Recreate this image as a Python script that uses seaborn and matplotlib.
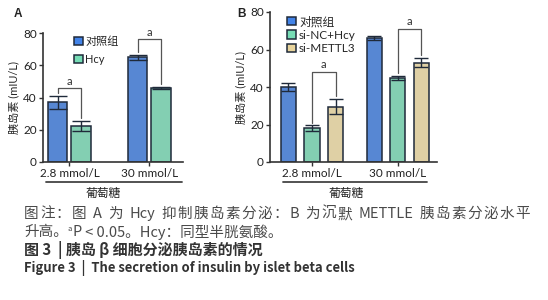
import re
import numpy as np
import pandas as pd
import matplotlib
matplotlib.use("Agg")
import matplotlib.pyplot as plt
from matplotlib.lines import Line2D
import seaborn as sns

# dados
glucose = ["2.8 mmol/L", "30 mmol/L"]
groups_a = ["对照组", "Hcy"]
mean_a = {"对照组": [37, 65], "Hcy": [22.5, 46]}
sd_a = {"对照组": [4, 1.5], "Hcy": [3, 0.7]}

groups_b = ["对照组", "si-NC+Hcy", "si-METTL3"]
mean_b = {"对照组": [40, 66], "si-NC+Hcy": [18, 45], "si-METTL3": [29.5, 53]}
sd_b = {"对照组": [2, 1], "si-NC+Hcy": [1.5, 1], "si-METTL3": [4, 2.5]}

y_ticks = [0, 20, 40, 60, 80]
ylabel = "胰岛素 (mIU/L)"
xlabel = "葡萄糖"

colors = {"对照组": "#4283e8", "Hcy": "#76dcb5", "si-NC+Hcy": "#76dcb5", "si-METTL3": "#e8d49c"}
edge = "#1f2a3a"

sns.set_style("white")
plt.rcParams['font.family'] = ['Lato', 'Noto Sans CJK SC', 'DejaVu Sans']

W, H = 548, 300
fig = plt.figure(figsize=(W / 100, H / 100), dpi=100)
renderer = fig.canvas.get_renderer()


def px_axes(left, top, right, bottom):
    return fig.add_axes([left / W, 1 - bottom / H, (right - left) / W, (bottom - top) / H])


def build_df(groups, means, sds):
    rows = []
    for g in groups:
        for i, c in enumerate(glucose):
            rows.append({"glucose": c, "group": g, "mean": means[g][i], "sd": sds[g][i]})
    return pd.DataFrame(rows)


def draw_panel(ax, groups, means, sds, width, gap, xlim, leg_xy, leg_fs, leg_space):
    df = build_df(groups, means, sds)
    sns.barplot(data=df, x="glucose", y="mean", hue="group", hue_order=groups,
                order=glucose, palette=colors, width=width, gap=gap,
                edgecolor=edge, linewidth=1.1, errorbar=None, ax=ax)
    # barras de erro a partir das posições dos patches
    centers = {}
    for cont, g in zip(ax.containers, groups):
        for i, bar in enumerate(cont):
            cx = bar.get_x() + bar.get_width() / 2
            centers[(g, i)] = (cx, bar.get_height() + sds[g][i])
            ax.errorbar(cx, bar.get_height(), yerr=sds[g][i], color=edge,
                        capsize=bar.get_width() * 100 * 0.28, elinewidth=1.0,
                        capthick=1.0, zorder=5)
    ax.set_ylim(0, 80)
    ax.set_xlim(*xlim)
    ax.set_yticks(y_ticks)
    ax.set_xlabel("")
    ax.set_ylabel(ylabel, fontsize=8, labelpad=3)
    ax.tick_params(axis="both", length=3, width=1, color="#333333", labelsize=8.5, pad=1.5,
                   labelcolor="#222222", left=True, bottom=True)
    sns.despine(ax=ax)
    for s in ["left", "bottom"]:
        ax.spines[s].set_linewidth(1.2)
        ax.spines[s].set_color("#333333")
    handles = [plt.Rectangle((0, 0), 1, 1, facecolor=colors[g], edgecolor=edge, linewidth=1.1)
               for g in groups]
    ax.legend(handles, groups, loc="upper left", bbox_to_anchor=leg_xy, frameon=False,
              fontsize=leg_fs, handlelength=0.8, handleheight=0.7, handletextpad=0.25,
              borderpad=0, borderaxespad=0, labelspacing=leg_space)
    return centers


def bracket(ax, p1, p2, top, label):
    x1, y1 = p1
    x2, y2 = p2
    ax.plot([x1, x1, x2, x2], [y1 + 1.5, top, top, y2 + 1.5], color="#555555", lw=0.9,
            clip_on=False, zorder=6)
    ax.text((x1 + x2) / 2, top + 0.8, label, ha="center", va="bottom", fontsize=8,
            color="#333333")


# painel A
axA = px_axes(43, 33, 183, 162)
cA = draw_panel(axA, groups_a, mean_a, sd_a, 0.58, 0.17, (-0.33, 1.42), (0.22, 0.975), 8, 0.6)
bracket(axA, cA[("对照组", 0)], cA[("Hcy", 0)], 46, "a")
bracket(axA, cA[("对照组", 1)], cA[("Hcy", 1)], 76, "a")

# painel B
axB = px_axes(270, 12, 437, 162)
cB = draw_panel(axB, groups_b, mean_b, sd_b, 0.825, 0.36, (-0.49, 1.46), (0.1, 0.975), 8.5, 0.2)
bracket(axB, cB[("si-NC+Hcy", 0)], cB[("si-METTL3", 0)], 48, "a")
bracket(axB, cB[("si-NC+Hcy", 1)], cB[("si-METTL3", 1)], 71, "a")

# linha e rótulo do eixo x
for x0, x1, xt in [(46, 182, 103), (283, 427, 346)]:
    fig.add_artist(Line2D([x0 / W, x1 / W], [1 - 182 / H] * 2, color="#444444", lw=1.3))
    fig.text(xt / W, 1 - 193 / H, xlabel, ha="center", va="center", fontsize=8.5, color="#222222")

fig.text(14 / W, 1 - 14 / H, "A", family="Liberation Sans", fontsize=8.5, fontweight="bold",
         ha="left", va="center", color="#222222")
fig.text(237 / W, 1 - 14 / H, "B", family="Liberation Sans", fontsize=8.5, fontweight="bold",
         ha="left", va="center", color="#222222")

# legenda da figura
cap_font = ['Noto Sans CJK SC', 'DejaVu Sans']
cap_fs = 10.5
gray = "#4a4a4a"


def put_line(text, x0, y, x1=None, **kw):
    # coloca cada token; se x1 for dado, justifica a linha até x1
    tokens = re.findall(r"[A-Za-z0-9.<>+-]+|\s|.", text)
    widths = []
    for tk in tokens:
        if tk.isspace():
            widths.append(cap_fs * 0.35)
        else:
            t = fig.text(0, 0, tk, family=cap_font, fontsize=cap_fs, **kw)
            widths.append(t.get_window_extent(renderer).width)
            t.remove()
    extra = 0
    if x1 is not None:
        extra = (x1 - x0 - sum(widths)) / (len(tokens) - 1)
    x = x0
    for tk, w in zip(tokens, widths):
        if not tk.isspace():
            fig.text(x / W, 1 - y / H, tk, family=cap_font, fontsize=cap_fs, va="center", **kw)
        x += w + extra
    return x


put_line("图注：图 A 为 Hcy 抑制胰岛素分泌：B 为沉默 METTLE 胰岛素分泌水平", 24, 214, 530, color=gray)

x = 24
for txt, kw in [("升高。", {}), ("a", {"fontsize": 5.5, "dy": -3}), ("P", {"style": "italic"}),
                (" < 0.05。Hcy：同型半胱氨酸。", {})]:
    t = fig.text(x / W, 1 - (232 + kw.get("dy", 0)) / H, txt, family=cap_font,
                 fontsize=kw.get("fontsize", cap_fs), color=gray, va="center",
                 style=kw.get("style", "normal"))
    x += t.get_window_extent(renderer).width

fig.text(24 / W, 1 - 250 / H, "图 3  | 胰岛 β 细胞分泌胰岛素的情况", family=cap_font,
         fontsize=10.8, fontweight="bold", color="#333333", va="center")
fig.text(24 / W, 1 - 268 / H, "Figure 3  |  The secretion of insulin by islet beta cells",
         family=cap_font, fontsize=9.4, fontweight="bold", color="#333333", va="center")

fig.savefig("out.png", dpi=100)
